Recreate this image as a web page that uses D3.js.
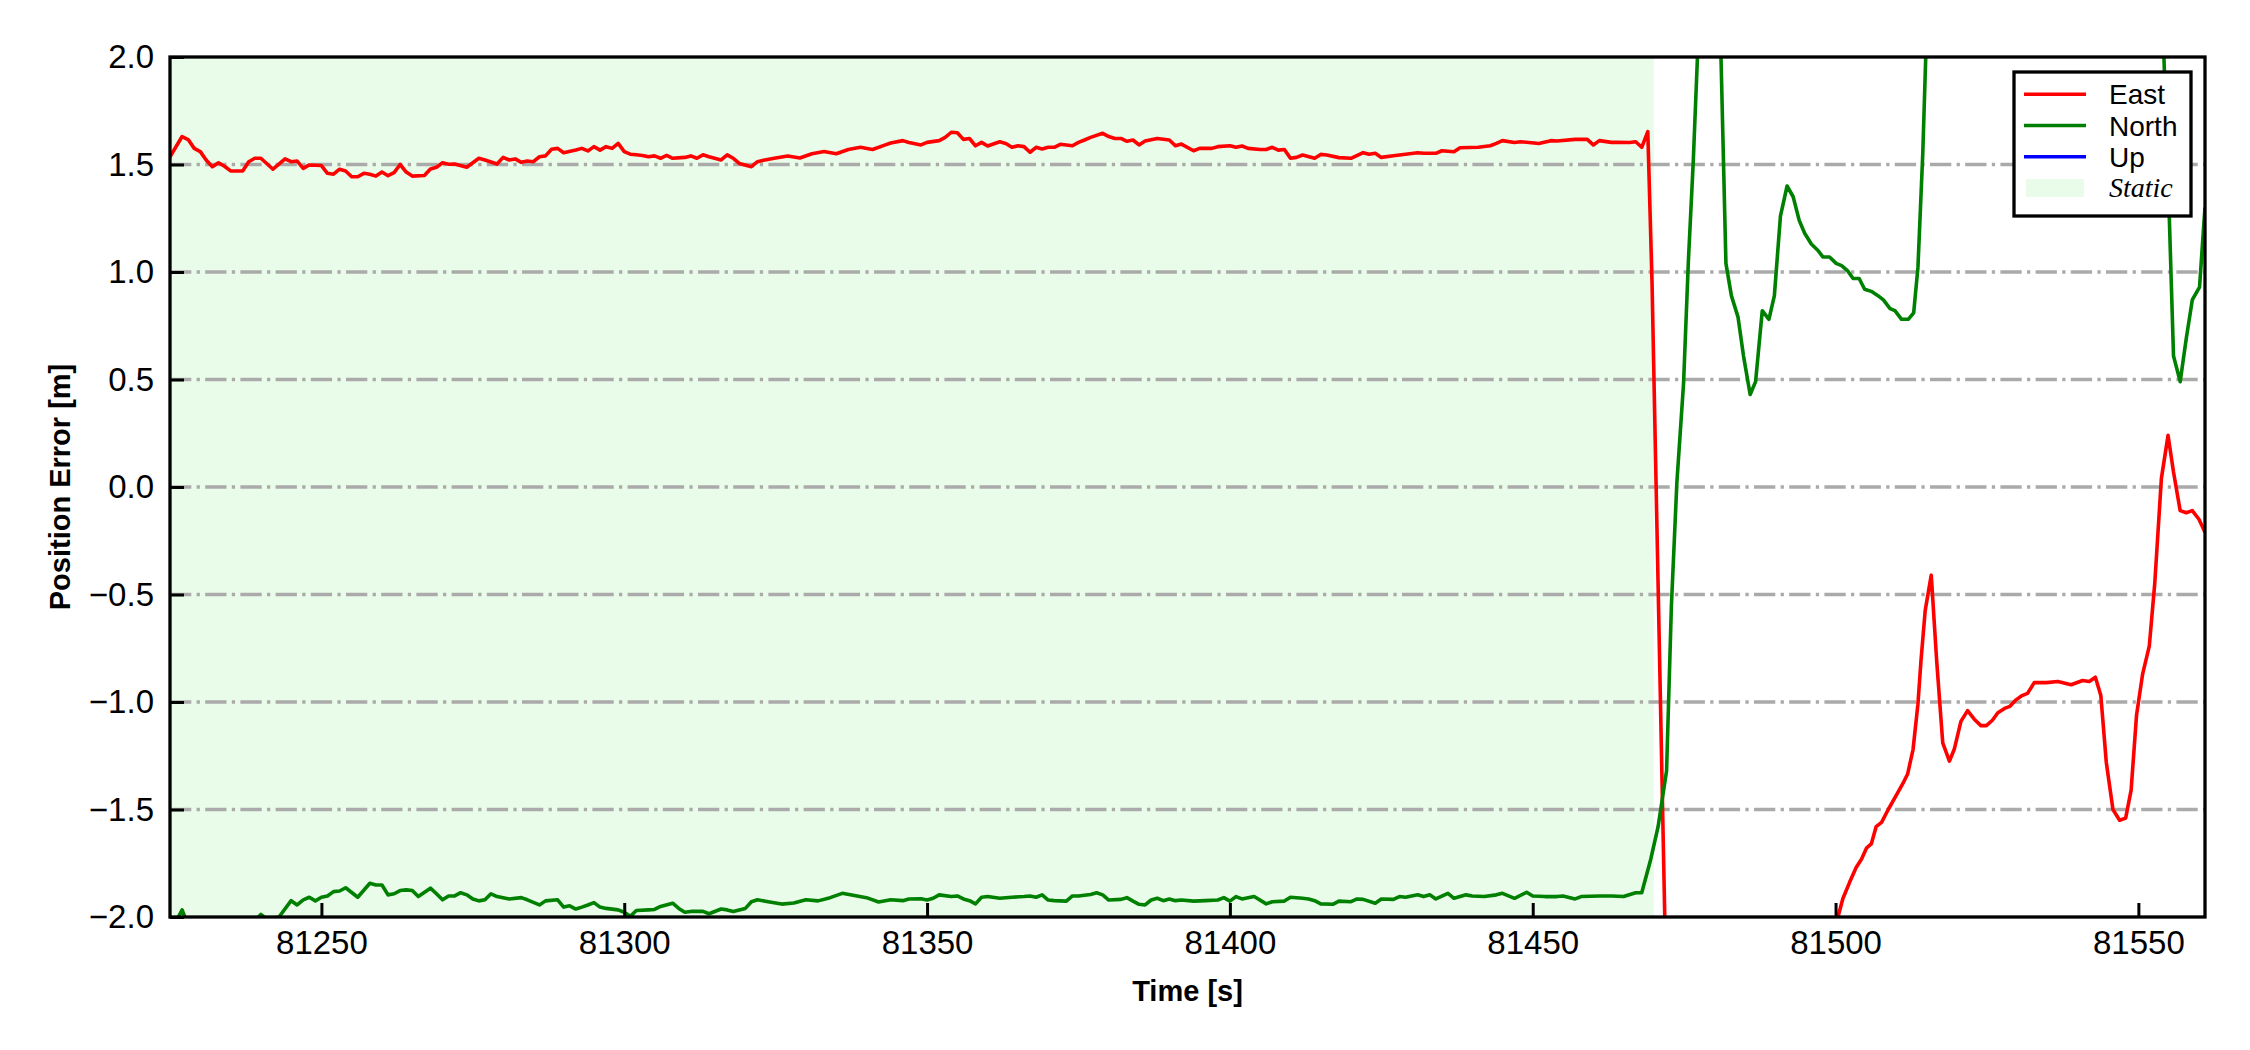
<!DOCTYPE html>
<html>
<head>
<meta charset="utf-8">
<script src="https://cdn.jsdelivr.net/npm/d3@7"></script>
<style>
  html, body { margin: 0; padding: 0; background: #fff; }
  svg { display: block; }
</style>
</head>
<body>
<svg id="chart" width="2250" height="1050"></svg>
<script>
// ---------------- data ----------------
const xTicks = [81250, 81300, 81350, 81400, 81450, 81500, 81550];
const yTicks = [-2.0, -1.5, -1.0, -0.5, 0.0, 0.5, 1.0, 1.5, 2.0];
const seriesNames = ["East", "North", "Up"];
const staticSpan = [81225, 81470];

const east = [
[81225,1.536],[81227,1.63],[81228,1.616],[81229,1.575],[81230,1.56],[81231,1.52],[81232,1.49],[81233,1.508],[81234,1.492],[81235,1.47],[81237,1.47],[81238,1.513],[81239,1.529],[81240,1.529],[81242,1.478],[81244,1.526],[81245,1.513],[81246,1.516],[81247,1.482],[81248,1.498],[81250,1.495],[81251,1.459],[81252,1.455],[81253,1.478],[81254,1.47],[81255,1.443],[81256,1.443],[81257,1.459],[81258,1.455],[81259,1.446],[81260,1.465],[81261,1.448],[81262,1.462],[81263,1.50],[81264,1.465],[81265,1.446],[81267,1.449],[81268,1.479],[81269,1.487],[81270,1.508],[81271,1.501],[81272,1.502],[81274,1.487],[81276,1.529],[81277,1.521],[81279,1.502],[81280,1.533],[81281,1.521],[81282,1.526],[81283,1.51],[81284,1.516],[81285,1.513],[81286,1.536],[81287,1.54],[81288,1.571],[81289,1.575],[81290,1.555],[81292,1.567],[81293,1.575],[81294,1.563],[81295,1.583],[81296,1.567],[81297,1.583],[81298,1.575],[81299,1.598],[81300,1.56],[81301,1.548],[81302,1.545],[81303,1.542],[81304,1.536],[81305,1.54],[81306,1.529],[81307,1.542],[81308,1.529],[81310,1.533],[81311,1.54],[81312,1.529],[81313,1.545],[81314,1.536],[81316,1.521],[81317,1.545],[81318,1.529],[81319,1.505],[81321,1.49],[81322,1.513],
[81323,1.52],[81325,1.53],[81327,1.54],[81329,1.53],[81331,1.55],[81333,1.56],[81335,1.55],[81337,1.57],[81339,1.58],[81341,1.57],[81343,1.59],[81344,1.6],
[81346,1.611],[81347,1.602],[81349,1.591],[81350,1.603],[81352,1.611],[81353,1.626],[81354,1.65],[81355,1.648],[81356,1.617],[81357,1.621],[81358,1.587],[81359,1.603],[81360,1.586],[81362,1.606],[81363,1.598],[81364,1.58],[81365,1.587],[81366,1.583],[81367,1.557],[81368,1.58],[81369,1.572],[81370,1.58],[81371,1.58],[81372,1.594],[81374,1.587],[81375,1.603],[81376,1.614],[81377,1.626],[81379,1.645],[81380,1.63],[81381,1.621],[81382,1.621],[81383,1.608],[81384,1.614],[81385,1.591],[81386,1.609],[81388,1.621],[81390,1.614],[81391,1.587],[81392,1.595],[81394,1.564],[81395,1.575],[81397,1.575],[81398,1.583],[81400,1.587],[81401,1.58],[81402,1.586],[81403,1.575],[81405,1.57],[81406,1.57],[81407,1.58],[81408,1.567],[81409,1.57],[81410,1.529],[81411,1.533],[81412,1.544],[81414,1.529],[81415,1.547],[81416,1.544],[81418,1.532],[81420,1.529],[81422,1.555],[81423,1.548],[81424,1.552],[81425,1.533],[81427,1.541],[81429,1.548],[81431,1.555],[81432,1.552],[81434,1.552],[81435,1.564],[81437,1.559],[81438,1.578],[81441,1.58],[81443,1.587],[81444,1.598],[81445,1.611],[81447,1.602],[81448,1.606],[81451,1.598],[81453,1.611],[81454,1.609],[81457,1.617],[81459,1.617],[81460,1.591],[81461,1.611],[81463,1.603],[81464,1.603],[81466,1.602],[81467,1.606],[81468,1.58],[81469,1.653],
[81469.7,0.95],[81472.5,-2.98],[81475,-3.5],[81480,-3.8],[81485,-3.6],[81490,-3.2],[81495,-2.7],[81498,-2.3],[81500.4,-2.0],[81501.2,-1.915],[81502.3,-1.84],[81503.4,-1.77],[81504.3,-1.73],[81505.1,-1.68],[81505.9,-1.66],[81506.7,-1.58],[81507.6,-1.56],[81508.7,-1.50],[81509.9,-1.44],[81511.1,-1.38],[81511.9,-1.335],[81512.8,-1.22],[81513.6,-1.01],[81514.1,-0.81],[81514.8,-0.575],[81515.8,-0.41],[81516.7,-0.81],[81517.7,-1.19],[81518.8,-1.275],[81519.6,-1.22],[81520.7,-1.09],[81521.8,-1.04],[81522.9,-1.08],[81524,-1.11],[81524.9,-1.11],[81525.9,-1.085],[81526.8,-1.05],[81527.9,-1.03],[81528.8,-1.02],[81529.8,-0.99],[81530.8,-0.97],[81531.7,-0.96],[81532.8,-0.91],[81534.8,-0.91],[81536.7,-0.905],[81538.9,-0.92],[81540.8,-0.90],[81541.9,-0.905],[81542.9,-0.885],[81543.8,-0.97],[81544.7,-1.28],[81545.8,-1.50],[81546.9,-1.55],[81547.9,-1.54],[81548.8,-1.41],[81549.7,-1.06],[81550.7,-0.87],[81551.8,-0.74],[81552.7,-0.45],[81553.8,0.04],[81554.9,0.24],[81555.8,0.07],[81556.9,-0.11],[81557.9,-0.12],[81558.9,-0.11],[81560,-0.15],[81561,-0.21]
];

const north = [
[81225,-2.05],[81226,-2.02],[81227,-1.967],[81228,-2.04],[81230,-2.08],[81233,-2.1],[81236,-2.06],[81239,-2.02],[81240,-1.988],[81241,-2.01],[81243,-2.0],[81245,-1.924],[81246,-1.944],[81247,-1.92],[81248,-1.908],[81249,-1.925],[81250,-1.908],[81251,-1.902],[81252,-1.882],[81253,-1.879],[81254,-1.864],[81256,-1.908],[81258,-1.843],[81259,-1.851],[81260,-1.851],[81261,-1.897],[81262,-1.892],[81263,-1.877],[81264,-1.874],[81265,-1.877],[81266,-1.905],[81268,-1.866],[81269,-1.892],[81270,-1.92],[81271,-1.902],[81272,-1.902],[81273,-1.887],[81274,-1.897],[81275,-1.916],[81276,-1.925],[81277,-1.92],[81278,-1.892],[81279,-1.905],[81281,-1.916],[81283,-1.91],[81284,-1.92],[81286,-1.944],[81287,-1.925],[81289,-1.92],[81290,-1.954],[81291,-1.948],[81292,-1.963],[81293,-1.954],[81294,-1.944],[81295,-1.933],[81296,-1.954],[81297,-1.96],[81299,-1.967],[81300,-1.978],[81301,-1.997],[81302,-1.97],[81304,-1.967],[81305,-1.965],[81306,-1.951],[81308,-1.936],[81309,-1.96],[81310,-1.978],[81311,-1.974],[81312,-1.974],[81313,-1.974],[81314,-1.985],[81316,-1.963],[81317,-1.967],[81318,-1.974],[81320,-1.96],[81321,-1.929],[81322,-1.92],
[81324,-1.93],[81326,-1.94],[81328,-1.935],[81330,-1.92],[81332,-1.925],[81334,-1.91],[81336,-1.89],[81338,-1.9],[81340,-1.91],[81342,-1.93],[81344,-1.92],
[81346,-1.924],[81347,-1.916],[81349,-1.915],[81350,-1.921],[81351,-1.913],[81352,-1.897],[81354,-1.905],[81355,-1.902],[81356,-1.916],[81357,-1.924],[81358,-1.939],[81359,-1.908],[81360,-1.905],[81362,-1.913],[81364,-1.908],[81366,-1.905],[81367,-1.902],[81368,-1.908],[81369,-1.897],[81370,-1.921],[81371,-1.924],[81373,-1.926],[81374,-1.902],[81375,-1.902],[81377,-1.895],[81378,-1.887],[81379,-1.897],[81380,-1.921],[81382,-1.918],[81383,-1.91],[81384,-1.926],[81385,-1.941],[81386,-1.944],[81387,-1.921],[81388,-1.913],[81389,-1.924],[81390,-1.916],[81391,-1.924],[81392,-1.921],[81394,-1.926],[81396,-1.924],[81398,-1.921],[81399,-1.91],[81400,-1.926],[81401,-1.905],[81402,-1.916],[81404,-1.905],[81406,-1.939],[81407,-1.929],[81409,-1.926],[81410,-1.908],[81412,-1.913],[81413,-1.916],[81414,-1.924],[81415,-1.939],[81417,-1.941],[81418,-1.926],[81420,-1.929],[81421,-1.916],[81422,-1.918],[81424,-1.936],[81425,-1.916],[81427,-1.918],[81428,-1.905],[81429,-1.908],[81431,-1.897],[81432,-1.905],[81433,-1.897],[81434,-1.916],[81436,-1.89],[81437,-1.913],[81439,-1.897],[81440,-1.902],[81442,-1.905],[81444,-1.897],[81445,-1.89],[81447,-1.913],[81449,-1.885],[81450,-1.902],[81452,-1.905],[81454,-1.905],[81455,-1.902],[81457,-1.916],[81458,-1.905],[81461,-1.902],[81463,-1.902],[81465,-1.905],[81467,-1.887],[81468,-1.887],
[81469.5,-1.73],[81470.7,-1.58],[81471.4,-1.45],[81472.1,-1.32],[81472.9,-0.55],[81473.8,0.02],[81474.9,0.48],[81475.7,1.05],[81476.5,1.51],[81477.2,2.0],[81478,2.5],[81479,2.9],[81480,2.8],[81481,2.1],[81481.9,1.04],[81482.8,0.89],[81483.9,0.79],[81484.8,0.61],[81485.9,0.43],[81486.8,0.49],[81487.9,0.82],[81489,0.78],[81489.9,0.89],[81490.9,1.26],[81492,1.40],[81493,1.35],[81494,1.24],[81494.9,1.18],[81496,1.13],[81497.1,1.10],[81497.9,1.07],[81499,1.07],[81500.1,1.04],[81501,1.03],[81502,1.005],[81502.9,0.97],[81503.9,0.97],[81504.8,0.92],[81505.9,0.91],[81507,0.89],[81507.9,0.87],[81509,0.83],[81509.8,0.82],[81510.9,0.78],[81512,0.78],[81512.9,0.81],[81513.6,1.02],[81514.4,1.55],[81515,2.1],[81516,2.8],[81520,3.4],[81530,3.6],[81540,3.5],[81550,3.0],[81553.5,2.6],[81555.1,1.26],[81555.8,0.61],[81556.9,0.49],[81557.9,0.69],[81558.9,0.87],[81560.1,0.93],[81560.7,1.18],[81561,1.3]
];

const up = [];

const colors = { East: "#ff0000", North: "#008000", Up: "#0000ff" };
const staticFill = "rgb(233,252,233)";

// ---------------- layout ----------------
const L = 170, R = 2205, T = 57, B = 917;
const svg = d3.select("#chart");
const FONT = "'Liberation Sans', Arial, Helvetica, sans-serif";

const x = d3.scaleLinear().domain([81225, 81561]).range([L, R]);
const y = d3.scaleLinear().domain([-2, 2]).range([B, T]);

svg.append("defs").append("clipPath").attr("id", "clip")
  .append("rect").attr("x", L).attr("y", T).attr("width", R - L).attr("height", B - T);

// static span
svg.append("rect")
  .attr("clip-path", "url(#clip)")
  .attr("x", x(staticSpan[0])).attr("y", T)
  .attr("width", x(staticSpan[1]) - x(staticSpan[0])).attr("height", B - T)
  .attr("fill", staticFill);

// grid
svg.append("g").selectAll("line").data(yTicks.filter(v => v > -2 && v < 2)).join("line")
  .attr("x1", L).attr("x2", R)
  .attr("y1", d => y(d)).attr("y2", d => y(d))
  .attr("stroke", "#aaaaaa").attr("stroke-width", 3.3)
  .attr("stroke-dasharray", "21.3,5.3,3.3,5.3");

// lines
const line = d3.line().x(d => x(d[0])).y(d => y(d[1]));
const gLines = svg.append("g").attr("clip-path", "url(#clip)");
[[east, "East"], [north, "North"], [up, "Up"]].forEach(([data, name]) => {
  gLines.append("path").datum(data)
    .attr("d", data.length ? line(data) : null)
    .attr("fill", "none")
    .attr("stroke", colors[name])
    .attr("stroke-width", 3.6)
    .attr("stroke-linejoin", "round");
});

// axes
const xAxis = d3.axisBottom(x).tickValues(xTicks).tickFormat(d3.format("d"))
  .tickSizeInner(-14).tickSizeOuter(0).tickPadding(14);
const gx = svg.append("g").attr("transform", `translate(0,${B})`).call(xAxis);
gx.select(".domain").remove();
gx.selectAll(".tick line").attr("stroke", "#000").attr("stroke-width", 3);
gx.selectAll(".tick text").attr("font-family", FONT).attr("font-size", 33).attr("fill", "#000");

const yAxis = d3.axisLeft(y).tickValues(yTicks).tickFormat(d3.format(".1f"))
  .tickSizeInner(-14).tickSizeOuter(0).tickPadding(16);
const gy = svg.append("g").attr("transform", `translate(${L},0)`).call(yAxis);
gy.select(".domain").remove();
gy.selectAll(".tick line").attr("stroke", "#000").attr("stroke-width", 3);
gy.selectAll(".tick text").attr("font-family", FONT).attr("font-size", 33).attr("fill", "#000");

// frame
svg.append("rect").attr("x", L).attr("y", T).attr("width", R - L).attr("height", B - T)
  .attr("fill", "none").attr("stroke", "#000").attr("stroke-width", 3.3);

// axis labels
svg.append("text").attr("x", (L + R) / 2).attr("y", 1001)
  .attr("text-anchor", "middle").attr("font-family", FONT).attr("font-weight", "bold")
  .attr("font-size", 29).text("Time [s]");
svg.append("text").attr("transform", `translate(70,${(T + B) / 2}) rotate(-90)`)
  .attr("text-anchor", "middle").attr("font-family", FONT).attr("font-weight", "bold")
  .attr("font-size", 29).text("Position Error [m]");

// legend
const lg = svg.append("g");
lg.append("rect").attr("x", 2014).attr("y", 72).attr("width", 177).attr("height", 144)
  .attr("fill", "#fff").attr("stroke", "#000").attr("stroke-width", 3.3);
const rowY = [94.3, 125.5, 156.7, 188];
seriesNames.forEach((name, i) => {
  lg.append("line").attr("x1", 2024).attr("x2", 2086).attr("y1", rowY[i]).attr("y2", rowY[i])
    .attr("stroke", colors[name]).attr("stroke-width", 3.6);
  lg.append("text").attr("x", 2109).attr("y", rowY[i]).attr("dy", "0.36em")
    .attr("font-family", FONT).attr("font-size", 28).text(name);
});
lg.append("rect").attr("x", 2026).attr("y", 179).attr("width", 58).attr("height", 18)
  .attr("fill", staticFill);
lg.append("text").attr("x", 2109).attr("y", rowY[3]).attr("dy", "0.33em")
  .attr("font-family", "'Liberation Serif', 'Times New Roman', serif").attr("font-style", "italic")
  .attr("font-size", 28).text("Static");
</script>
</body>
</html>
